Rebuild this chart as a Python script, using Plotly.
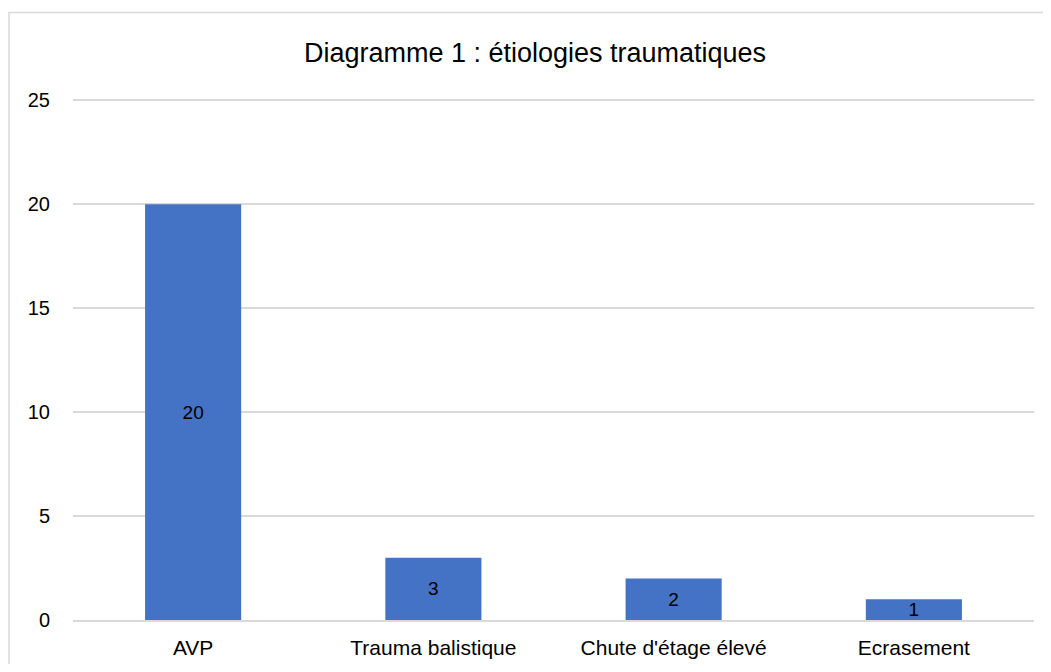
import plotly.graph_objects as go

categories = ["AVP", "Trauma balistique", "Chute d'étage élevé", "Ecrasement"]
values = [20, 3, 2, 1]
y_ticks = [0, 5, 10, 15, 20, 25]

OFF = 8  # page body margin
Y_MAX = 25.5
PX_PER_UNIT = 20.8
W, H = 1035, 656
L = 73 - OFF
T = 100 - (Y_MAX - 25) * PX_PER_UNIT - OFF
R = W - (1034 - OFF)
B = H - (620 - OFF)
pw, ph = W - L - R, H - T - B

FONT = "Liberation Sans"

fig = go.Figure(go.Bar(
    x=categories, y=values,
    marker=dict(color="#4472C4", line=dict(width=0)),
    text=[str(v) for v in values],
    textposition="inside", insidetextanchor="middle", textangle=0,
    constraintext="none", cliponaxis=False,
    textfont=dict(family=FONT, size=19, color="#000000"),
    width=0.4,
))

fig.update_layout(
    width=W, height=H,
    margin=dict(l=L, r=R, t=T, b=B),
    paper_bgcolor="white", plot_bgcolor="white",
    font=dict(family=FONT, color="#000000"),
    title=dict(text="Diagramme 1 : étiologies traumatiques", x=(535 - OFF) / W, xanchor="center",
               y=1 - (53 - OFF) / H, yanchor="middle", font=dict(family=FONT, size=27, color="#000000")),
    showlegend=False,
    bargap=0.6,
    shapes=[dict(type="rect", xref="paper", yref="paper",
                 x0=(9 - 73) / pw, x1=(W + 20 - L) / pw,
                 y0=(T + ph - (H + 20)) / ph, y1=(620 - 12) / ph,
                 line=dict(color="#d9d9d9", width=1.5), fillcolor="rgba(0,0,0,0)", layer="below")],
)
fig.update_yaxes(range=[0, Y_MAX], tickvals=y_ticks, showgrid=True, gridcolor="#d9d9d9", gridwidth=1.5,
                 zeroline=False, showline=False, ticks="", ticklabelstandoff=22, automargin=False,
                 tickfont=dict(family=FONT, size=20, color="#000000"))
fig.update_xaxes(showline=True, linecolor="#d9d9d9", linewidth=1.5, ticks="", ticklabelstandoff=8,
                 automargin=False,
                 tickfont=dict(family=FONT, size=21, color="#000000"))

fig.write_html("out.html")
